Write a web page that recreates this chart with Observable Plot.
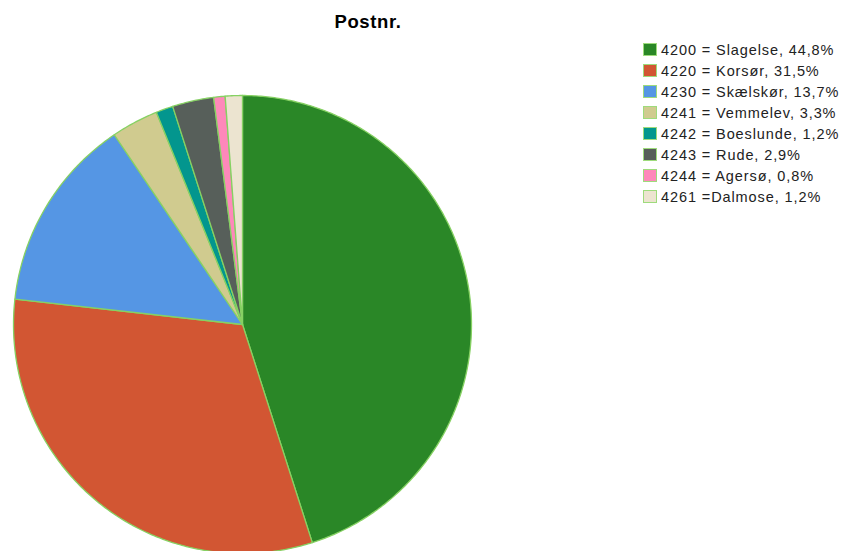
<!DOCTYPE html>
<html>
<head>
<meta charset="utf-8">
<script src="https://cdn.jsdelivr.net/npm/d3@7"></script>
<script src="https://cdn.jsdelivr.net/npm/@observablehq/plot@0.6"></script>
<style>
  html, body { margin: 0; padding: 0; background: #fff; width: 844px; height: 551px; overflow: hidden; }
  #wrap { position: relative; width: 844px; height: 551px; font-family: "Liberation Sans", Arial, sans-serif; }
  #title { position: absolute; left: 0; width: 736px; top: 11px; line-height: 21px; text-align: center; font-weight: bold; font-size: 18.5px; letter-spacing: 0.6px; color: #000; }
  #legend { position: absolute; left: 643px; top: 39.2px; font-size: 14.5px; letter-spacing: 0.9px; color: #222; }
  .row { display: flex; align-items: center; height: 21px; white-space: nowrap; }
  .sw { width: 12px; height: 11px; border: 1.5px solid #9edb7c; margin-right: 4px; box-sizing: content-box; }
  #chart { position: absolute; left: 0; top: 0; }
</style>
</head>
<body>
<div id="wrap">
  <div id="chart"></div>
  <div id="title">Postnr.</div>
  <div id="legend"></div>
</div>
<script>
const labels = ["4200 = Slagelse, 44,8%", "4220 = Korsør, 31,5%", "4230 = Skælskør, 13,7%", "4241 = Vemmelev, 3,3%", "4242 = Boeslunde, 1,2%", "4243 = Rude, 2,9%", "4244 = Agersø, 0,8%", "4261 =Dalmose, 1,2%"];
const keys = ["4200", "4220", "4230", "4241", "4242", "4243", "4244", "4261"];
const values = [44.8, 31.5, 13.7, 3.3, 1.2, 2.9, 0.8, 1.2];
const colors = ["#2a8727", "#d25633", "#5596e4", "#d0cb8f", "#03968e", "#575f5a", "#fe88ba", "#ece4d0"];

const arcs = d3.pie().sort(null).value(d => d)(values);
const pts = [];
arcs.forEach((a, i) => {
  pts.push({key: keys[i], x: 0, y: 0});
  const n = Math.max(2, Math.ceil((a.endAngle - a.startAngle) / 0.01));
  for (let j = 0; j <= n; j++) {
    const t = a.startAngle + (a.endAngle - a.startAngle) * j / n;
    pts.push({key: keys[i], x: Math.sin(t), y: Math.cos(t)});
  }
  pts.push({key: keys[i], x: 0, y: 0});
});

const cx = 242, cy = 324, r = 229;
const chart = Plot.plot({
  width: 844,
  height: 551,
  margin: 0,
  x: {domain: [-1, 1], range: [cx - r, cx + r], axis: null},
  y: {domain: [-1, 1], range: [cy + r, cy - r], axis: null},
  color: {domain: keys, range: colors},
  marks: [
    Plot.line(pts, {x: "x", y: "y", z: "key", fill: "key", stroke: "#86d163", strokeWidth: 1.3, strokeLinejoin: "round"})
  ]
});
chart.style.overflow = "hidden";
document.getElementById("chart").appendChild(chart);

const leg = d3.select("#legend");
labels.forEach((l, i) => {
  const row = leg.append("div").attr("class", "row");
  row.append("div").attr("class", "sw").style("background", colors[i]);
  row.append("span").text(l);
});
</script>
</body>
</html>
